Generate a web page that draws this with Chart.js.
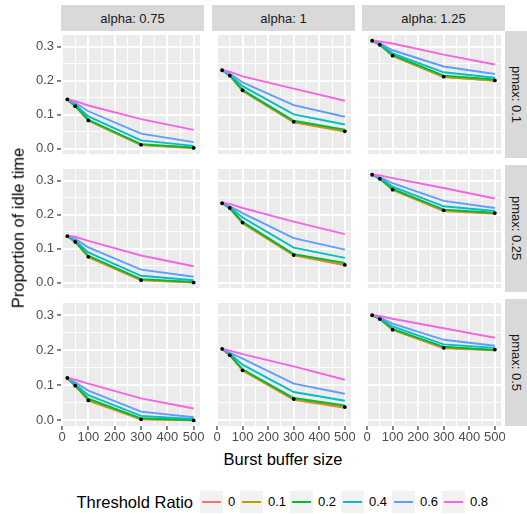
<!DOCTYPE html>
<html><head><meta charset="utf-8">
<script src="https://cdn.jsdelivr.net/npm/chart.js@4.4.1/dist/chart.umd.min.js"></script>
<style>
html,body{margin:0;padding:0;background:#fff;}
body{width:527px;height:514px;position:relative;overflow:hidden;font-family:"Liberation Sans",Arial,sans-serif;}
canvas{position:absolute;}
.strip{position:absolute;background:#D9D9D9;color:#1A1A1A;font-size:13px;display:flex;align-items:center;justify-content:center;white-space:nowrap;}
.vstrip{writing-mode:vertical-rl;}
.title{position:absolute;color:#000;font-size:16.5px;white-space:nowrap;}
.lg{position:absolute;top:491px;height:22px;line-height:22px;white-space:nowrap;}
.key{position:absolute;top:491px;width:23px;height:22px;background:#F2F2F2;}
.key i{position:absolute;left:2px;right:2px;top:10px;height:2px;display:block;}
</style>
</head><body>
<script>
// ---------- data ----------
const bufferSizes = [20, 50, 100, 300, 500];
const thresholdRatios = ['0', '0.1', '0.2', '0.4', '0.6', '0.8'];
const alphaLabels = ['alpha: 0.75', 'alpha: 1', 'alpha: 1.25'];
const pmaxLabels = ['pmax: 0.1', 'pmax: 0.25', 'pmax: 0.5'];
const xTickLabels = [0, 100, 200, 300, 400, 500];
const yTickLabels = [0, 0.1, 0.2, 0.3];

// rows: threshold ratio 0, 0.1, 0.2, 0.4, 0.6, 0.8 ; columns: buffer size 20, 50, 100, 300, 500
const idle_a075_p010 = [
  [0.145, 0.125, 0.082, 0.010, 0.001],
  [0.145, 0.125, 0.083, 0.011, 0.002],
  [0.145, 0.126, 0.085, 0.013, 0.003],
  [0.145, 0.130, 0.095, 0.024, 0.008],
  [0.145, 0.135, 0.110, 0.044, 0.019],
  [0.146, 0.140, 0.127, 0.087, 0.055]];
const idle_a100_p010 = [
  [0.231, 0.215, 0.170, 0.077, 0.050],
  [0.231, 0.215, 0.171, 0.079, 0.052],
  [0.231, 0.216, 0.173, 0.082, 0.056],
  [0.231, 0.218, 0.184, 0.101, 0.071],
  [0.231, 0.221, 0.195, 0.128, 0.094],
  [0.232, 0.227, 0.213, 0.177, 0.141]];
const idle_a125_p010 = [
  [0.318, 0.306, 0.273, 0.211, 0.200],
  [0.318, 0.306, 0.274, 0.212, 0.201],
  [0.318, 0.307, 0.276, 0.215, 0.204],
  [0.318, 0.309, 0.281, 0.225, 0.209],
  [0.318, 0.311, 0.290, 0.242, 0.220],
  [0.319, 0.316, 0.310, 0.277, 0.248]];
const idle_a075_p025 = [
  [0.137, 0.120, 0.075, 0.007, 0.000],
  [0.137, 0.120, 0.076, 0.008, 0.001],
  [0.137, 0.121, 0.079, 0.010, 0.002],
  [0.137, 0.124, 0.089, 0.020, 0.007],
  [0.137, 0.129, 0.104, 0.038, 0.017],
  [0.138, 0.135, 0.123, 0.080, 0.048]];
const idle_a100_p025 = [
  [0.234, 0.219, 0.175, 0.080, 0.051],
  [0.234, 0.219, 0.176, 0.082, 0.054],
  [0.234, 0.220, 0.179, 0.084, 0.058],
  [0.234, 0.222, 0.192, 0.103, 0.073],
  [0.234, 0.225, 0.205, 0.131, 0.097],
  [0.235, 0.232, 0.220, 0.180, 0.143]];
const idle_a125_p025 = [
  [0.318, 0.306, 0.273, 0.211, 0.203],
  [0.318, 0.306, 0.274, 0.213, 0.204],
  [0.318, 0.307, 0.276, 0.215, 0.206],
  [0.318, 0.309, 0.283, 0.225, 0.211],
  [0.318, 0.311, 0.293, 0.241, 0.220],
  [0.319, 0.316, 0.308, 0.279, 0.248]];
const idle_a075_p050 = [
  [0.121, 0.099, 0.056, 0.003, 0.000],
  [0.121, 0.099, 0.058, 0.004, 0.000],
  [0.121, 0.100, 0.062, 0.006, 0.001],
  [0.121, 0.104, 0.072, 0.013, 0.004],
  [0.121, 0.109, 0.085, 0.025, 0.009],
  [0.122, 0.116, 0.105, 0.063, 0.034]];
const idle_a100_p050 = [
  [0.204, 0.186, 0.142, 0.059, 0.036],
  [0.204, 0.186, 0.143, 0.061, 0.039],
  [0.204, 0.187, 0.146, 0.064, 0.043],
  [0.204, 0.190, 0.159, 0.081, 0.056],
  [0.204, 0.193, 0.176, 0.105, 0.076],
  [0.205, 0.199, 0.189, 0.154, 0.116]];
const idle_a125_p050 = [
  [0.300, 0.289, 0.258, 0.206, 0.200],
  [0.300, 0.289, 0.259, 0.208, 0.201],
  [0.300, 0.290, 0.261, 0.210, 0.201],
  [0.300, 0.292, 0.268, 0.217, 0.207],
  [0.300, 0.294, 0.276, 0.230, 0.213],
  [0.301, 0.298, 0.290, 0.263, 0.236]];

// black points
const pts_a075_p010 = [0.145, 0.125, 0.083, 0.011, 0.002];
const pts_a100_p010 = [0.231, 0.215, 0.172, 0.079, 0.051];
const pts_a125_p010 = [0.318, 0.306, 0.274, 0.212, 0.201];
const pts_a075_p025 = [0.137, 0.120, 0.076, 0.007, 0.000];
const pts_a100_p025 = [0.234, 0.220, 0.177, 0.081, 0.052];
const pts_a125_p025 = [0.318, 0.306, 0.274, 0.213, 0.205];
const pts_a075_p050 = [0.121, 0.099, 0.057, 0.003, 0.000];
const pts_a100_p050 = [0.204, 0.186, 0.143, 0.061, 0.038];
const pts_a125_p050 = [0.300, 0.289, 0.259, 0.207, 0.202];

const panelLines = [
  [idle_a075_p010, idle_a100_p010, idle_a125_p010],
  [idle_a075_p025, idle_a100_p025, idle_a125_p025],
  [idle_a075_p050, idle_a100_p050, idle_a125_p050]];
const panelPoints = [
  [pts_a075_p010, pts_a100_p010, pts_a125_p010],
  [pts_a075_p025, pts_a100_p025, pts_a125_p025],
  [pts_a075_p050, pts_a100_p050, pts_a125_p050]];

// ---------- styling / layout ----------
const seriesColors = ['#F8766D', '#B79F00', '#00BA38', '#00BFC4', '#619CFF', '#F564E3'];
const FONT = '"Liberation Sans", Arial, sans-serif';
const PX = [61, 212, 362], PY = [31, 165, 299], PW = 143, PH = 127;
const AXW = 61, AXH = 22;
const X_MIN = -4, X_MAX = 524, Y_MIN = -0.016, Y_MAX = 0.335;

function withMinor(arr) {
  const out = [];
  for (let i = 0; i < arr.length; i++) {
    out.push(arr[i]);
    if (i < arr.length - 1) out.push((arr[i] + arr[i + 1]) / 2);
  }
  return out;
}
const xGrid = withMinor(xTickLabels);
const yGrid = withMinor(yTickLabels);

const bgPlugin = {
  id: 'panelBg',
  beforeDraw(chart) {
    const { ctx, chartArea: a } = chart;
    ctx.save();
    ctx.fillStyle = '#EBEBEB';
    ctx.fillRect(a.left, a.top, a.right - a.left, a.bottom - a.top);
    ctx.restore();
  }
};

function noPad(s) { s.paddingTop = 0; s.paddingBottom = 0; s.paddingLeft = 0; s.paddingRight = 0; }

function addDiv(cls, text, css) {
  const d = document.createElement('div');
  d.className = cls;
  if (text !== null) d.textContent = text;
  Object.assign(d.style, css);
  document.body.appendChild(d);
  return d;
}

for (let r = 0; r < 3; r++) {
  for (let c = 0; c < 3; c++) {
    const showY = c === 0, showX = r === 2;
    const cv = document.createElement('canvas');
    const left = showY ? PX[c] - AXW : PX[c];
    const w = PW + (showY ? AXW : 0);
    const h = PH + (showX ? AXH : 0);
    cv.width = w; cv.height = h;
    cv.style.left = left + 'px'; cv.style.top = PY[r] + 'px';
    cv.style.width = w + 'px'; cv.style.height = h + 'px';
    document.body.appendChild(cv);

    const datasets = [];
    datasets.push({
      label: 'points', order: 0, showLine: false,
      data: bufferSizes.map((x, i) => ({ x, y: panelPoints[r][c][i] })),
      pointRadius: 1.9, pointBackgroundColor: '#000', pointBorderColor: '#000', pointBorderWidth: 0
    });
    thresholdRatios.forEach((tr, k) => {
      datasets.push({
        label: tr, order: 10 - k,
        data: bufferSizes.map((x, i) => ({ x, y: panelLines[r][c][k][i] })),
        borderColor: seriesColors[k], backgroundColor: seriesColors[k],
        borderWidth: 1.9, pointRadius: 0, tension: 0, fill: false
      });
    });

    new Chart(cv, {
      type: 'line',
      data: { datasets },
      plugins: [bgPlugin],
      options: {
        responsive: false, animation: false, devicePixelRatio: 1,
        layout: { padding: 0 },
        plugins: { legend: { display: false }, tooltip: { enabled: false } },
        scales: {
          x: {
            type: 'linear', min: X_MIN, max: X_MAX,
            afterBuildTicks: s => { s.ticks = xGrid.map(v => ({ value: v })); },
            afterFit: s => { s.height = showX ? AXH : 0; noPad(s); },
            ticks: {
              display: showX, autoSkip: false, maxRotation: 0, minRotation: 0, padding: 0,
              color: '#4D4D4D', font: { family: FONT, size: 13 },
              callback: (v, i) => (i % 2 === 0 ? String(xTickLabels[i / 2]) : '')
            },
            grid: {
              color: '#FFFFFF', lineWidth: ctx => (ctx.index % 2 === 0 ? 1.9 : 0.9),
              drawTicks: showX, tickLength: 4, tickWidth: 1.2,
              tickColor: ctx => (ctx.index % 2 === 0 ? '#333333' : 'rgba(0,0,0,0)')
            },
            border: { display: false }
          },
          y: {
            type: 'linear', min: Y_MIN, max: Y_MAX,
            afterBuildTicks: s => { s.ticks = yGrid.map(v => ({ value: v })); },
            afterFit: s => { s.width = showY ? AXW : 0; noPad(s); },
            ticks: {
              display: showY, autoSkip: false, padding: 3,
              color: '#4D4D4D', font: { family: FONT, size: 13 },
              callback: (v, i) => (i % 2 === 0 ? yTickLabels[i / 2].toFixed(1) : '')
            },
            grid: {
              color: '#FFFFFF', lineWidth: ctx => (ctx.index % 2 === 0 ? 1.9 : 0.9),
              drawTicks: showY, tickLength: 4, tickWidth: 1.2,
              tickColor: ctx => (ctx.index % 2 === 0 ? '#333333' : 'rgba(0,0,0,0)')
            },
            border: { display: false }
          }
        }
      }
    });
  }
}

// strips
for (let c = 0; c < 3; c++) {
  addDiv('strip', alphaLabels[c], { left: PX[c] + 'px', top: '5px', width: PW + 'px', height: '26px' });
}
for (let r = 0; r < 3; r++) {
  addDiv('strip vstrip', pmaxLabels[r], { left: (PX[2] + PW) + 'px', top: PY[r] + 'px', width: '22px', height: PH + 'px' });
}

// axis titles
addDiv('title', 'Burst buffer size', { left: '0px', width: (2 * 283) + 'px', textAlign: 'center', top: '451px', lineHeight: '16.5px' });
const yt = addDiv('title', 'Proportion of idle time', { left: '18px', top: '228px', lineHeight: '16.5px' });
yt.style.transform = 'translate(-50%,-50%) rotate(-90deg)';

// legend
addDiv('lg', 'Threshold Ratio', { right: (527 - 193) + 'px', fontSize: '16.5px' });
const keyX = [200, 240, 290, 341, 392, 442];
thresholdRatios.forEach((tr, k) => {
  const key = addDiv('key', null, { left: keyX[k] + 'px' });
  const line = document.createElement('i');
  line.style.background = seriesColors[k];
  key.appendChild(line);
  addDiv('lg', tr, { left: (keyX[k] + 28) + 'px', fontSize: '13px', color: '#000' });
});
</script>
</body></html>
